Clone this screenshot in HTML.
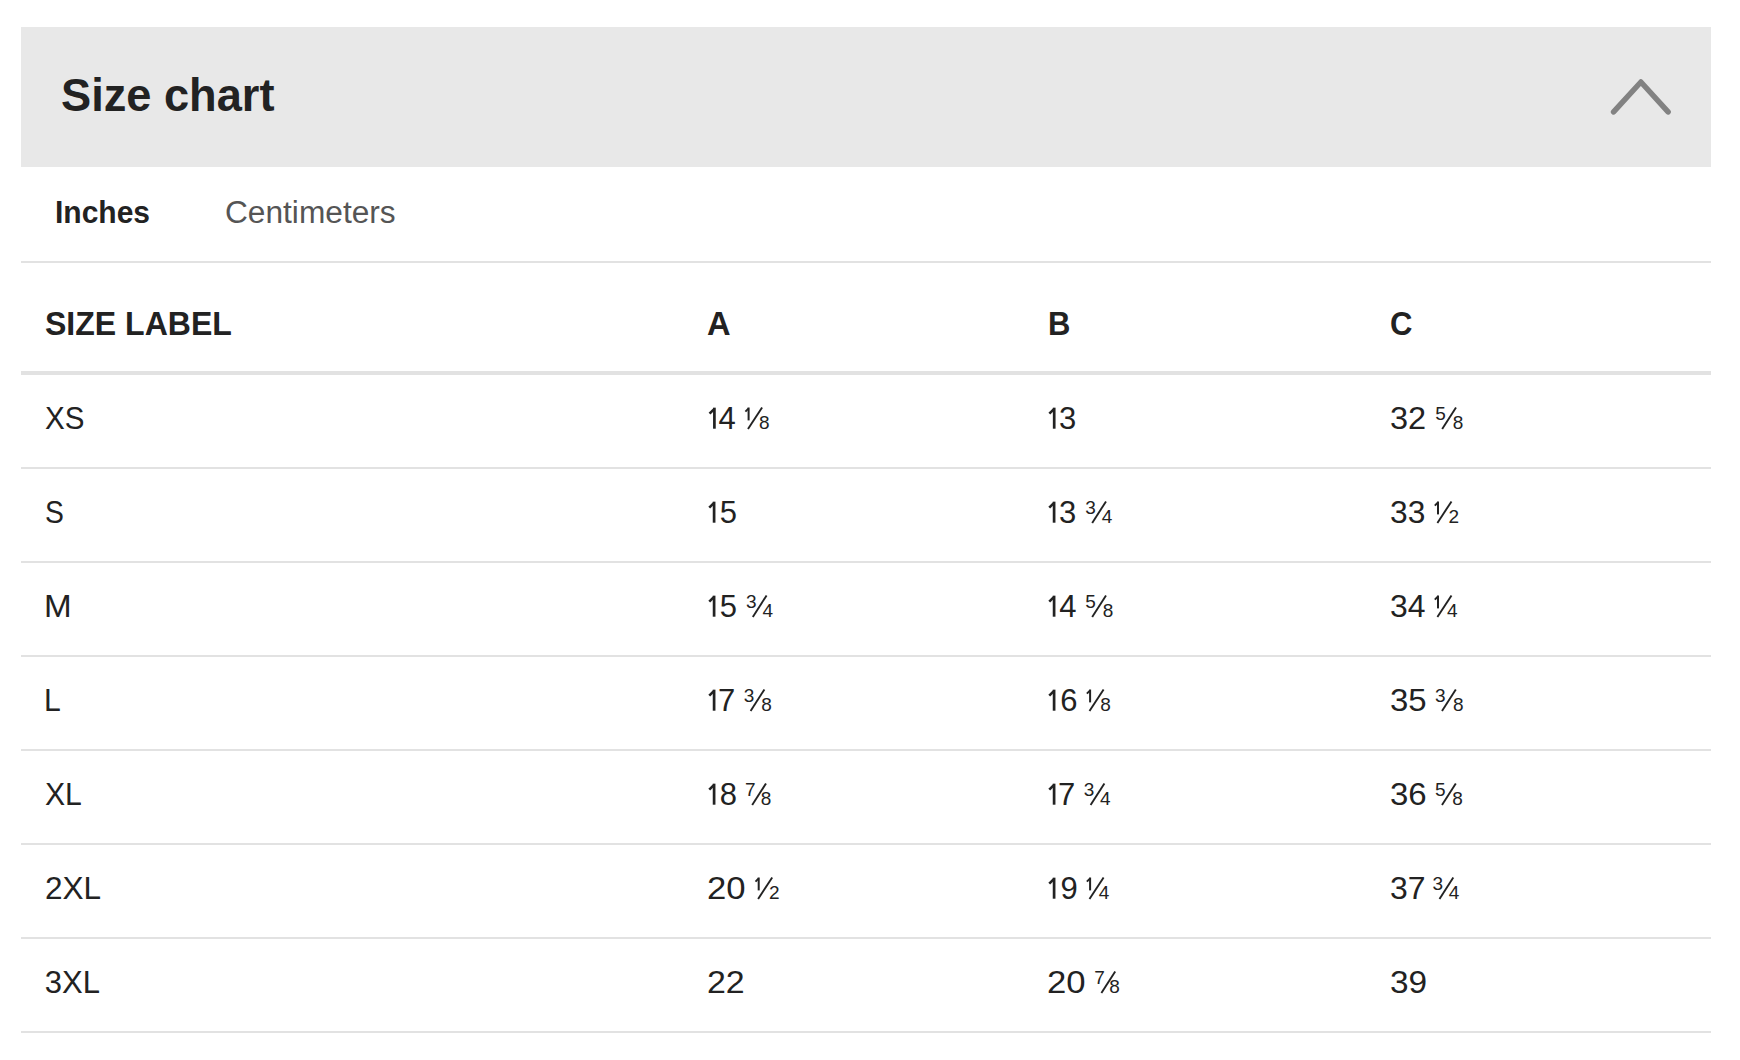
<!DOCTYPE html>
<html><head><meta charset="utf-8">
<style>
html,body{margin:0;padding:0;background:#fff;width:1740px;height:1060px;overflow:hidden;position:relative}
.t{position:absolute;font-family:"Liberation Sans",sans-serif;white-space:nowrap;color:#222;transform-origin:0 0}
.ln{position:absolute;left:21px;width:1690px;height:2px;background:#e2e2e2}
#hdr{position:absolute;left:21px;top:27px;width:1690px;height:140px;background:#e8e8e8}
</style></head><body>
<div id="hdr"></div>
<svg style="position:absolute;left:0;top:0" width="1740" height="200"><polyline points="1613.6,111.9 1640.9,82.0 1668.1,111.9" fill="none" stroke="#828282" stroke-width="5.5" stroke-linecap="round" stroke-linejoin="round"/></svg>
<div class="ln" style="top:261px"></div>
<div class="ln" style="top:467px"></div>
<div class="ln" style="top:561px"></div>
<div class="ln" style="top:655px"></div>
<div class="ln" style="top:749px"></div>
<div class="ln" style="top:843px"></div>
<div class="ln" style="top:937px"></div>
<div class="ln" style="top:1031px"></div>
<div class="ln" style="top:371px;height:4px"></div>
<div class="t" style="left:60.80px;top:72px;font-size:46px;line-height:46px;font-weight:700;transform:scaleX(0.9823);">Size chart</div>
<div class="t" style="left:55.09px;top:197px;font-size:31px;line-height:31px;font-weight:700;transform:scaleX(0.9677);">Inches</div>
<div class="t" style="left:225.49px;top:197px;font-size:31px;line-height:31px;font-weight:400;transform:scaleX(1.0212);color:#555;">Centimeters</div>
<div class="t" style="left:44.98px;top:307px;font-size:33px;line-height:33px;font-weight:700;transform:scaleX(0.9709);">SIZE LABEL</div>
<div class="t" style="left:707.39px;top:307px;font-size:33px;line-height:33px;font-weight:700;transform:scaleX(0.9892);">A</div>
<div class="t" style="left:1047.93px;top:307px;font-size:33px;line-height:33px;font-weight:700;transform:scaleX(0.9391);">B</div>
<div class="t" style="left:1389.73px;top:307px;font-size:33px;line-height:33px;font-weight:700;transform:scaleX(0.9409);">C</div>
<div class="t" style="left:44.94px;top:403px;font-size:31px;line-height:31px;font-weight:400;transform:scaleX(0.9532);">XS</div>
<div class="t" style="left:718.47px;top:403px;font-size:31px;line-height:31px;font-weight:400;">4</div>
<div class="t" style="left:758.96px;top:413px;font-size:19px;line-height:19px;font-weight:400;">8</div>
<div class="t" style="left:1058.92px;top:403px;font-size:31px;line-height:31px;font-weight:400;">3</div>
<div class="t" style="left:1389.56px;top:403px;font-size:31px;line-height:31px;font-weight:400;transform:scaleX(1.0491);">32</div>
<div class="t" style="left:1435.24px;top:404px;font-size:19px;line-height:19px;font-weight:400;">5</div>
<div class="t" style="left:1452.66px;top:413px;font-size:19px;line-height:19px;font-weight:400;">8</div>
<div class="t" style="left:45.01px;top:497px;font-size:31px;line-height:31px;font-weight:400;transform:scaleX(0.9134);">S</div>
<div class="t" style="left:719.66px;top:497px;font-size:31px;line-height:31px;font-weight:400;">5</div>
<div class="t" style="left:1059.02px;top:497px;font-size:31px;line-height:31px;font-weight:400;">3</div>
<div class="t" style="left:1085.28px;top:498px;font-size:19px;line-height:19px;font-weight:400;">3</div>
<div class="t" style="left:1101.69px;top:507px;font-size:19px;line-height:19px;font-weight:400;">4</div>
<div class="t" style="left:1389.59px;top:497px;font-size:31px;line-height:31px;font-weight:400;transform:scaleX(1.0238);">33</div>
<div class="t" style="left:1448.49px;top:507px;font-size:19px;line-height:19px;font-weight:400;">2</div>
<div class="t" style="left:44.18px;top:591px;font-size:31px;line-height:31px;font-weight:400;transform:scaleX(1.0705);">M</div>
<div class="t" style="left:719.66px;top:591px;font-size:31px;line-height:31px;font-weight:400;">5</div>
<div class="t" style="left:745.88px;top:592px;font-size:19px;line-height:19px;font-weight:400;">3</div>
<div class="t" style="left:762.59px;top:601px;font-size:19px;line-height:19px;font-weight:400;">4</div>
<div class="t" style="left:1059.27px;top:591px;font-size:31px;line-height:31px;font-weight:400;">4</div>
<div class="t" style="left:1085.24px;top:592px;font-size:19px;line-height:19px;font-weight:400;">5</div>
<div class="t" style="left:1102.86px;top:601px;font-size:19px;line-height:19px;font-weight:400;">8</div>
<div class="t" style="left:1389.59px;top:591px;font-size:31px;line-height:31px;font-weight:400;transform:scaleX(1.0280);">34</div>
<div class="t" style="left:1446.99px;top:601px;font-size:19px;line-height:19px;font-weight:400;">4</div>
<div class="t" style="left:44.43px;top:685px;font-size:31px;line-height:31px;font-weight:400;transform:scaleX(0.9730);">L</div>
<div class="t" style="left:718.02px;top:685px;font-size:31px;line-height:31px;font-weight:400;">7</div>
<div class="t" style="left:743.68px;top:686px;font-size:19px;line-height:19px;font-weight:400;">3</div>
<div class="t" style="left:761.36px;top:695px;font-size:19px;line-height:19px;font-weight:400;">8</div>
<div class="t" style="left:1060.32px;top:685px;font-size:31px;line-height:31px;font-weight:400;">6</div>
<div class="t" style="left:1100.36px;top:695px;font-size:19px;line-height:19px;font-weight:400;">8</div>
<div class="t" style="left:1389.55px;top:685px;font-size:31px;line-height:31px;font-weight:400;transform:scaleX(1.0625);">35</div>
<div class="t" style="left:1435.08px;top:686px;font-size:19px;line-height:19px;font-weight:400;">3</div>
<div class="t" style="left:1453.06px;top:695px;font-size:19px;line-height:19px;font-weight:400;">8</div>
<div class="t" style="left:45.12px;top:779px;font-size:31px;line-height:31px;font-weight:400;transform:scaleX(0.9726);">XL</div>
<div class="t" style="left:719.71px;top:779px;font-size:31px;line-height:31px;font-weight:400;">8</div>
<div class="t" style="left:745.03px;top:780px;font-size:19px;line-height:19px;font-weight:400;">7</div>
<div class="t" style="left:760.76px;top:789px;font-size:19px;line-height:19px;font-weight:400;">8</div>
<div class="t" style="left:1058.02px;top:779px;font-size:31px;line-height:31px;font-weight:400;">7</div>
<div class="t" style="left:1083.68px;top:780px;font-size:19px;line-height:19px;font-weight:400;">3</div>
<div class="t" style="left:1100.09px;top:789px;font-size:19px;line-height:19px;font-weight:400;">4</div>
<div class="t" style="left:1389.54px;top:779px;font-size:31px;line-height:31px;font-weight:400;transform:scaleX(1.0645);">36</div>
<div class="t" style="left:1435.04px;top:780px;font-size:19px;line-height:19px;font-weight:400;">5</div>
<div class="t" style="left:1452.36px;top:789px;font-size:19px;line-height:19px;font-weight:400;">8</div>
<div class="t" style="left:44.71px;top:873px;font-size:31px;line-height:31px;font-weight:400;transform:scaleX(1.0177);">2XL</div>
<div class="t" style="left:706.85px;top:873px;font-size:31px;line-height:31px;font-weight:400;transform:scaleX(1.1195);">20</div>
<div class="t" style="left:768.89px;top:883px;font-size:19px;line-height:19px;font-weight:400;">2</div>
<div class="t" style="left:1060.43px;top:873px;font-size:31px;line-height:31px;font-weight:400;">9</div>
<div class="t" style="left:1098.69px;top:883px;font-size:19px;line-height:19px;font-weight:400;">4</div>
<div class="t" style="left:1389.58px;top:873px;font-size:31px;line-height:31px;font-weight:400;transform:scaleX(1.0302);">37</div>
<div class="t" style="left:1432.58px;top:874px;font-size:19px;line-height:19px;font-weight:400;">3</div>
<div class="t" style="left:1448.69px;top:883px;font-size:19px;line-height:19px;font-weight:400;">4</div>
<div class="t" style="left:44.72px;top:967px;font-size:31px;line-height:31px;font-weight:400;">3XL</div>
<div class="t" style="left:706.89px;top:967px;font-size:31px;line-height:31px;font-weight:400;transform:scaleX(1.0936);">22</div>
<div class="t" style="left:1046.85px;top:967px;font-size:31px;line-height:31px;font-weight:400;transform:scaleX(1.1195);">20</div>
<div class="t" style="left:1094.23px;top:968px;font-size:19px;line-height:19px;font-weight:400;">7</div>
<div class="t" style="left:1109.36px;top:977px;font-size:19px;line-height:19px;font-weight:400;">8</div>
<div class="t" style="left:1389.53px;top:967px;font-size:31px;line-height:31px;font-weight:400;transform:scaleX(1.0775);">39</div>
<svg style="position:absolute;left:0;top:0" width="1740" height="1060"><g fill="#222" stroke="#222"><rect stroke="none" x="713.05" y="407.66" width="2.7" height="21.04"/>
<line x1="714.40" y1="408.86" x2="709.55" y2="413.56" stroke-width="2.6"/>
<rect stroke="none" x="747.60" y="407.50" width="2.0" height="12.90"/>
<line x1="748.60" y1="408.30" x2="745.40" y2="411.70" stroke-width="1.9"/>
<line x1="748.00" y1="428.90" x2="762.10" y2="407.40" stroke-width="1.9"/>
<rect stroke="none" x="1052.85" y="407.66" width="2.7" height="21.04"/>
<line x1="1054.20" y1="408.86" x2="1049.35" y2="413.56" stroke-width="2.6"/>
<line x1="1442.20" y1="428.90" x2="1456.00" y2="407.40" stroke-width="1.9"/>
<rect stroke="none" x="712.75" y="501.66" width="2.7" height="21.04"/>
<line x1="714.10" y1="502.86" x2="709.25" y2="507.56" stroke-width="2.6"/>
<rect stroke="none" x="1052.75" y="501.66" width="2.7" height="21.04"/>
<line x1="1054.10" y1="502.86" x2="1049.25" y2="507.56" stroke-width="2.6"/>
<line x1="1092.20" y1="522.90" x2="1106.00" y2="501.40" stroke-width="1.9"/>
<rect stroke="none" x="1437.00" y="501.50" width="2.0" height="12.90"/>
<line x1="1438.00" y1="502.30" x2="1434.80" y2="505.70" stroke-width="1.9"/>
<line x1="1437.40" y1="522.90" x2="1451.50" y2="501.40" stroke-width="1.9"/>
<rect stroke="none" x="712.75" y="595.66" width="2.7" height="21.04"/>
<line x1="714.10" y1="596.86" x2="709.25" y2="601.56" stroke-width="2.6"/>
<line x1="752.80" y1="616.90" x2="766.60" y2="595.40" stroke-width="1.9"/>
<rect stroke="none" x="1052.75" y="595.66" width="2.7" height="21.04"/>
<line x1="1054.10" y1="596.86" x2="1049.25" y2="601.56" stroke-width="2.6"/>
<line x1="1092.20" y1="616.90" x2="1106.00" y2="595.40" stroke-width="1.9"/>
<rect stroke="none" x="1437.00" y="595.50" width="2.0" height="12.90"/>
<line x1="1438.00" y1="596.30" x2="1434.80" y2="599.70" stroke-width="1.9"/>
<line x1="1437.40" y1="616.90" x2="1451.50" y2="595.40" stroke-width="1.9"/>
<rect stroke="none" x="712.75" y="689.66" width="2.7" height="21.04"/>
<line x1="714.10" y1="690.86" x2="709.25" y2="695.56" stroke-width="2.6"/>
<line x1="750.60" y1="710.90" x2="764.40" y2="689.40" stroke-width="1.9"/>
<rect stroke="none" x="1052.75" y="689.66" width="2.7" height="21.04"/>
<line x1="1054.10" y1="690.86" x2="1049.25" y2="695.56" stroke-width="2.6"/>
<rect stroke="none" x="1089.10" y="689.50" width="2.0" height="12.90"/>
<line x1="1090.10" y1="690.30" x2="1086.90" y2="693.70" stroke-width="1.9"/>
<line x1="1089.50" y1="710.90" x2="1103.60" y2="689.40" stroke-width="1.9"/>
<line x1="1442.00" y1="710.90" x2="1455.80" y2="689.40" stroke-width="1.9"/>
<rect stroke="none" x="712.75" y="783.66" width="2.7" height="21.04"/>
<line x1="714.10" y1="784.86" x2="709.25" y2="789.56" stroke-width="2.6"/>
<line x1="752.20" y1="804.90" x2="766.00" y2="783.40" stroke-width="1.9"/>
<rect stroke="none" x="1052.75" y="783.66" width="2.7" height="21.04"/>
<line x1="1054.10" y1="784.86" x2="1049.25" y2="789.56" stroke-width="2.6"/>
<line x1="1090.60" y1="804.90" x2="1104.40" y2="783.40" stroke-width="1.9"/>
<line x1="1442.00" y1="804.90" x2="1455.80" y2="783.40" stroke-width="1.9"/>
<rect stroke="none" x="757.70" y="877.50" width="2.0" height="12.90"/>
<line x1="758.70" y1="878.30" x2="755.50" y2="881.70" stroke-width="1.9"/>
<line x1="758.10" y1="898.90" x2="772.20" y2="877.40" stroke-width="1.9"/>
<rect stroke="none" x="1052.75" y="877.66" width="2.7" height="21.04"/>
<line x1="1054.10" y1="878.86" x2="1049.25" y2="883.56" stroke-width="2.6"/>
<rect stroke="none" x="1089.10" y="877.50" width="2.0" height="12.90"/>
<line x1="1090.10" y1="878.30" x2="1086.90" y2="881.70" stroke-width="1.9"/>
<line x1="1089.50" y1="898.90" x2="1103.60" y2="877.40" stroke-width="1.9"/>
<line x1="1439.50" y1="898.90" x2="1453.30" y2="877.40" stroke-width="1.9"/>
<line x1="1101.40" y1="992.90" x2="1115.20" y2="971.40" stroke-width="1.9"/></g></svg>
</body></html>
